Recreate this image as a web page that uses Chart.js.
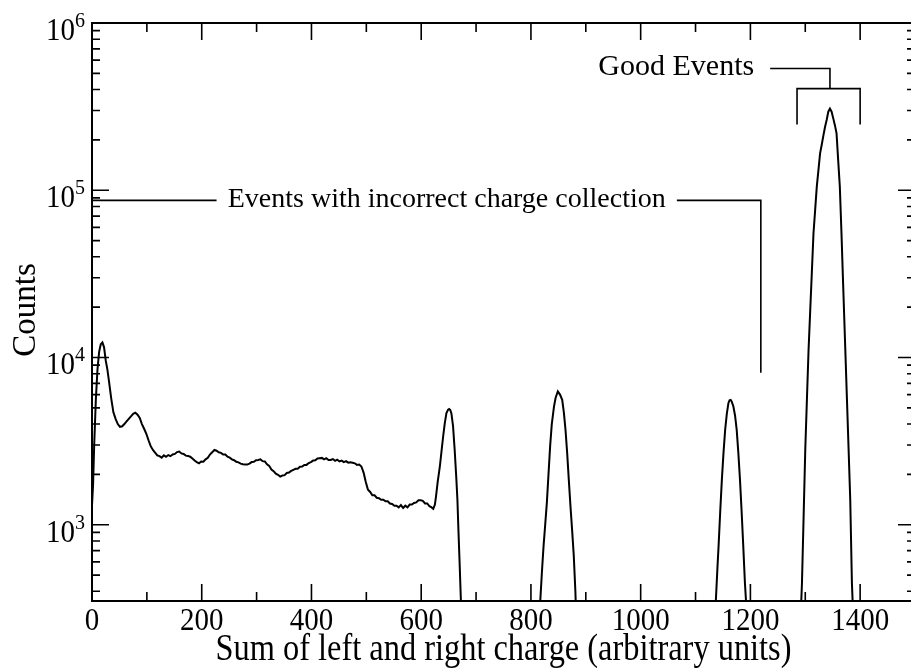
<!DOCTYPE html>
<html>
<head>
<meta charset="utf-8">
<script src="https://cdn.jsdelivr.net/npm/chart.js@4.4.0/dist/chart.umd.min.js"></script>
<style>
  html, body { margin: 0; padding: 0; overflow: hidden; background: #fff; }
  #caixa { position: relative; width: 916px; height: 668px; }
</style>
</head>
<body>
<div id="caixa"><canvas id="grafico"></canvas></div>
<script>
// spectrum, split where the curve drops below the axis
let x1 = [
  0, 2, 4, 7, 10, 13, 16, 19, 22, 25,
  28, 31, 35, 39, 43, 47, 51, 55, 59, 63,
  67, 71, 75, 79, 83, 87, 91, 95, 99, 103,
  107, 111, 115, 119, 123, 127, 131, 135, 139, 143,
  147, 151, 155, 159, 163, 167, 171, 175, 179, 183,
  187, 191, 195, 199, 203, 207, 211, 215, 219, 223,
  227, 231, 235, 239, 243, 247, 251, 255, 259, 263,
  267, 271, 275, 279, 283, 287, 291, 295, 299, 303,
  307, 311, 315, 319, 323, 327, 331, 335, 339, 343,
  347, 351, 355, 359, 363, 367, 371, 375, 379, 383,
  387, 391, 395, 399, 403, 407, 411, 415, 419, 423,
  427, 431, 435, 439, 443, 447, 451, 455, 459, 463,
  467, 471, 475, 479, 483, 487, 491, 495, 499, 503,
  507, 511, 515, 519, 523, 527, 531, 535, 539, 543,
  547, 551, 555, 559, 563, 567, 571, 575, 579, 583,
  587, 591, 595, 599, 603, 607, 611, 615, 619, 622,
  625, 627, 630, 634, 637, 640, 643, 646, 649, 651,
  653, 655, 658, 661, 664, 666, 668, 670, 672, 674
];
let y1 = [
  1300, 1750, 3000, 5600, 8500, 10800, 12000, 12300, 11500, 9600,
  8500, 7200, 5700, 4700, 4300, 4000, 3850, 3880, 4000, 4150,
  4300, 4450, 4600, 4680, 4550, 4350, 4000, 3750, 3500, 3200,
  2950, 2800, 2700, 2600, 2570, 2520, 2600, 2550, 2610, 2570,
  2630, 2650, 2720, 2740, 2670, 2650, 2590, 2580, 2550, 2490,
  2420, 2370, 2330, 2390, 2380, 2460, 2510, 2630, 2710, 2800,
  2770, 2710, 2690, 2630, 2630, 2550, 2520, 2460, 2430, 2380,
  2360, 2320, 2300, 2290, 2290, 2320, 2370, 2380, 2430, 2440,
  2460, 2400, 2390, 2300, 2250, 2140, 2090, 2020, 1990, 1940,
  1970, 1980, 2040, 2050, 2100, 2130, 2160, 2160, 2220, 2230,
  2280, 2280, 2340, 2370, 2420, 2430, 2490, 2500, 2510, 2460,
  2500, 2440, 2440, 2470, 2410, 2450, 2390, 2420, 2370, 2400,
  2350, 2360, 2350, 2330, 2280, 2290, 2230, 2050, 1800, 1620,
  1570, 1500, 1500, 1450, 1440, 1410, 1410, 1380, 1380, 1340,
  1330, 1300, 1300, 1270, 1310, 1260, 1300, 1270, 1320, 1320,
  1350, 1360, 1400, 1400, 1390, 1340, 1340, 1290, 1270, 1245,
  1320, 1480, 1800, 2230, 2750, 3370, 4050, 4650, 4880, 4920,
  4850, 4650, 3900, 2810, 1900, 1410, 900, 593, 380, 250
];

let x2 = [815, 817, 820, 823, 826, 829, 832, 835, 838, 842, 845, 849, 853, 857, 860, 863, 866, 869, 872, 875, 878, 881, 883];
let y2 = [250, 350, 520, 745, 1000, 1350, 2000, 2950, 4000, 5090, 5750, 6270, 6000, 5580, 4700, 3700, 2700, 1860, 1300, 935, 660, 400, 250];

let x3 = [1135, 1137, 1140, 1142, 1145, 1148, 1151, 1154, 1157, 1160, 1162, 1164, 1166, 1169, 1172, 1175, 1178, 1181, 1184, 1187, 1190, 1192, 1194];
let y3 = [250, 350, 560, 745, 1200, 1860, 2700, 3700, 4600, 5350, 5550, 5580, 5450, 5090, 4500, 3700, 2700, 1860, 1200, 745, 450, 350, 250];

let x4 = [1291, 1294, 1297, 1300, 1303, 1306, 1309, 1312, 1315, 1318, 1321, 1324, 1327, 1330, 1333, 1336, 1339,
  1342, 1345, 1348, 1351, 1354, 1357, 1360, 1363, 1366, 1369, 1373, 1376, 1379, 1382, 1385, 1388];
let y4 = [250, 450, 1120, 2810, 5600, 11100, 19000, 32400, 55300, 76000, 105000, 132000, 166000, 187000, 212000, 239000, 263000,
  295000, 308000, 295000, 269000, 245000, 219000, 151000, 105000, 55300, 27500, 11100, 5580, 2810, 1400, 450, 250];

// axes
let xTicks = [0, 200, 400, 600, 800, 1000, 1200, 1400];
let yDecades = [3, 4, 5, 6];
let xTitle = "Sum of left and right charge (arbitrary units)";
let yTitle = "Counts";

// annotations (data units)
let badText = "Events with incorrect charge collection";
let badLineY = 87000;
let badLeft = [0, 227];
let badRight = [1066, 1219];
let badDropTo = 8100;

let goodText = "Good Events";
let goodLineY = 535000;
let goodLine = [1236, 1345];
let goodBracketY = 405000;
let goodBracket = [1285, 1400];
let goodDropTo = 247000;

const fonte = '"Liberation Serif", "Times New Roman", serif';

function pontos(xs, ys) {
  let out = [];
  for (let i = 0; i < xs.length; i++) {
    out.push({ x: xs[i], y: ys[i] });
  }
  return out;
}

function serie(xs, ys) {
  return {
    data: pontos(xs, ys),
    borderColor: "#000",
    borderWidth: 2,
    pointRadius: 0,
    tension: 0,
    fill: false
  };
}

// stretch = vertical scale of the glyphs, the scan is a bit taller than wide
function texto(ctx, s, x, y, size, align, stretch) {
  ctx.save();
  ctx.translate(x, y);
  ctx.scale(1, stretch || 1);
  ctx.font = `${size}px ${fonte}`;
  ctx.textAlign = align;
  ctx.textBaseline = "alphabetic";
  ctx.fillText(s, 0, 0);
  ctx.restore();
}

const molduraPlugin = {
  id: "moldura",
  afterDraw(chart) {
    const ctx = chart.ctx;
    const a = chart.chartArea;
    const sx = chart.scales.x;
    const sy = chart.scales.y;
    ctx.save();
    ctx.strokeStyle = "#000";
    ctx.fillStyle = "#000";
    ctx.lineWidth = 2;
    ctx.strokeRect(a.left, a.top, a.right - a.left, a.bottom - a.top);

    // x ticks, inward, top and bottom
    ctx.lineWidth = 1.6;
    ctx.beginPath();
    for (let v = 0; v <= 1500; v += 100) {
      let px = sx.getPixelForValue(v);
      let len = v % 200 == 0 ? 17 : 9;
      ctx.moveTo(px, a.bottom);
      ctx.lineTo(px, a.bottom - len);
      ctx.moveTo(px, a.top);
      ctx.lineTo(px, a.top + len);
    }
    // y ticks, inward, left and right
    for (let d = 2; d <= 6; d++) {
      for (let k = 1; k <= 9; k++) {
        let v = k * Math.pow(10, d);
        if (v < sy.min || v > sy.max) continue;
        let py = sy.getPixelForValue(v);
        let len = k == 1 ? 17 : 8;
        ctx.moveTo(a.left, py);
        ctx.lineTo(a.left + len, py);
        ctx.moveTo(a.right, py);
        ctx.lineTo(a.right - len, py);
      }
    }
    ctx.stroke();

    // tick labels
    for (let i = 0; i < xTicks.length; i++) {
      texto(ctx, String(xTicks[i]), sx.getPixelForValue(xTicks[i]), 630, 29, "center", 1.1);
    }
    for (let i = 0; i < yDecades.length; i++) {
      let py = sy.getPixelForValue(Math.pow(10, yDecades[i]));
      texto(ctx, "10", 75, py + 17, 29, "right", 1.06);
      texto(ctx, String(yDecades[i]), 75, py + 4, 20, "left", 1.06);
    }

    // axis titles
    texto(ctx, xTitle, (a.left + a.right) / 2, 660, 32.4, "center", 1.15);
    ctx.save();
    ctx.translate(35, 310);
    ctx.rotate(-Math.PI / 2);
    texto(ctx, yTitle, 0, 0, 33, "center");
    ctx.restore();

    // annotation: bad events
    ctx.lineWidth = 1.6;
    let by = sy.getPixelForValue(badLineY);
    let l0 = sx.getPixelForValue(badLeft[0]);
    let l1 = sx.getPixelForValue(badLeft[1]);
    let r0 = sx.getPixelForValue(badRight[0]);
    let r1 = sx.getPixelForValue(badRight[1]);
    ctx.beginPath();
    ctx.moveTo(l0, by);
    ctx.lineTo(l1, by);
    ctx.moveTo(r0, by);
    ctx.lineTo(r1, by);
    ctx.lineTo(r1, sy.getPixelForValue(badDropTo));
    ctx.stroke();
    texto(ctx, badText, (l1 + r0) / 2, by + 7, 28, "center");

    // annotation: good events
    let gy = sy.getPixelForValue(goodLineY);
    let gby = sy.getPixelForValue(goodBracketY);
    let g0 = sx.getPixelForValue(goodLine[0]);
    let g1 = sx.getPixelForValue(goodLine[1]);
    let b0 = sx.getPixelForValue(goodBracket[0]);
    let b1 = sx.getPixelForValue(goodBracket[1]);
    let gd = sy.getPixelForValue(goodDropTo);
    ctx.beginPath();
    ctx.moveTo(g0, gy);
    ctx.lineTo(g1, gy);
    ctx.lineTo(g1, gby);
    ctx.moveTo(b0, gd);
    ctx.lineTo(b0, gby);
    ctx.lineTo(b1, gby);
    ctx.lineTo(b1, gd);
    ctx.stroke();
    texto(ctx, goodText, g0 - 16, gy + 7, 30, "right");

    ctx.restore();
  }
};

const ctx = document.getElementById("grafico");

new Chart(ctx, {
  type: "line",
  data: {
    datasets: [serie(x1, y1), serie(x2, y2), serie(x3, y3), serie(x4, y4)]
  },
  options: {
    responsive: true,
    maintainAspectRatio: false,
    animation: false,
    layout: { padding: { top: 23, right: 1, left: 0, bottom: 0 } },
    plugins: {
      legend: { display: false },
      tooltip: { enabled: false }
    },
    scales: {
      x: {
        type: "linear",
        min: 0,
        max: 1500,
        ticks: { display: false },
        grid: { display: false },
        border: { display: false },
        afterFit: function (s) { s.height = 67; }
      },
      y: {
        type: "logarithmic",
        min: 350,
        max: 1000000,
        ticks: { display: false },
        grid: { display: false },
        border: { display: false },
        afterFit: function (s) { s.width = 92; }
      }
    }
  },
  plugins: [molduraPlugin]
});
</script>
</body>
</html>
